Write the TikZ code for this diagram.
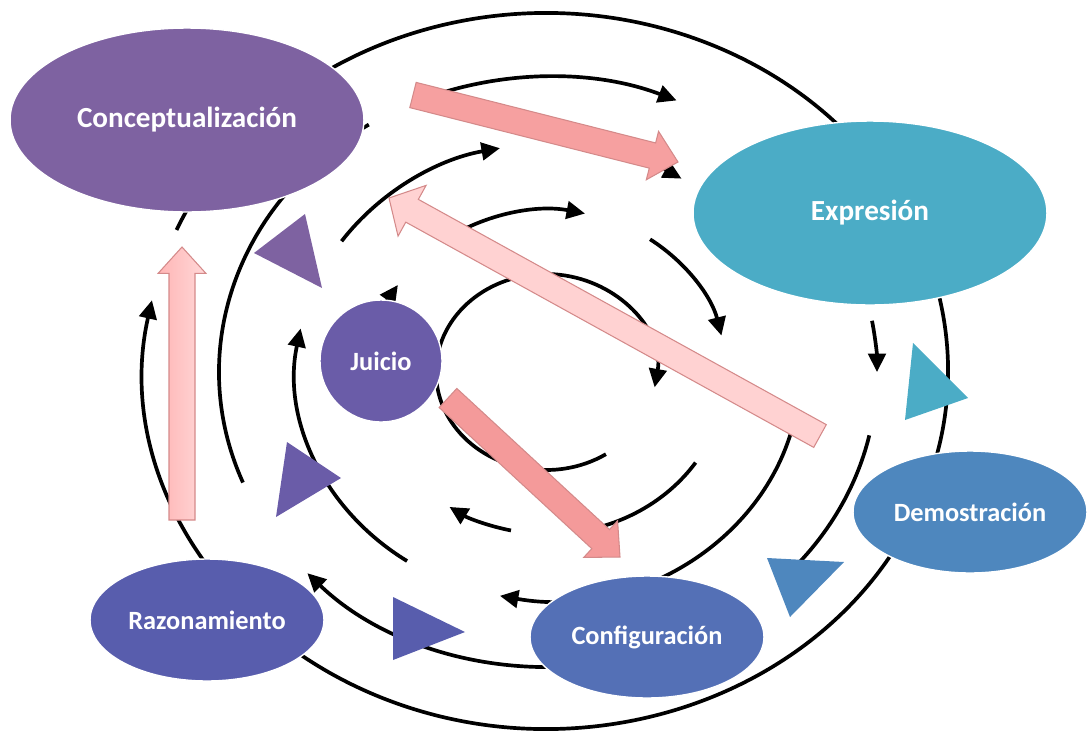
\documentclass[tikz,border=0pt]{standalone}
\usepackage{fontspec}
\setsansfont{Carlito}
\usetikzlibrary{arrows.meta,calc,shapes.geometric}

\definecolor{concept}{HTML}{7E62A1}
\definecolor{express}{HTML}{4BACC6}
\definecolor{demost}{HTML}{4E87BE}
\definecolor{config}{HTML}{5470B6}
\definecolor{reason}{HTML}{585DAD}
\definecolor{judge}{HTML}{6A5CA8}
\definecolor{pinkline}{HTML}{D48A8A}

\tikzset{phase/.style={ % Every stage of the cycle
            ellipse, inner sep=0pt,
            draw=white, line width=0.8pt,
            text=white},
        big/.style={phase, minimum width=7.08cm, minimum height=3.68cm,
            font=\sffamily\bfseries\fontsize{16.6}{20}\selectfont},
        small/.style={phase, minimum width=4.68cm, minimum height=2.44cm,
            font=\sffamily\bfseries\fontsize{15}{18}\selectfont},
        track/.style={draw, line width=2.1pt}, % Piece of a ring, no tip
        flow/.style={track, -{Triangle[length=10.5pt,width=10pt]}}, % Piece of a ring with tip
        fat/.style={draw=pinkline, line width=0.6pt} % Big pink arrows
        }

% #1 style, #2 tail, #3 tip, #4 half width of the head
\newcommand{\fatarrow}[4]{%
    \coordinate (#2-h) at ($(#3)!15pt!(#2)$);
    \draw[fat,#1] ($(#2)!7.4pt!90:(#3)$) -- ($(#2-h)!7.4pt!90:(#3)$) -- ($(#2-h)!#4!90:(#3)$)
        -- (#3) -- ($(#2-h)!#4!-90:(#3)$) -- ($(#2-h)!7.4pt!-90:(#3)$) -- ($(#2)!7.4pt!-90:(#3)$) -- cycle;
}

\begin{document}
\begin{tikzpicture}[x=0.02cm, y=-0.02cm]
    \useasboundingbox (0,0) rectangle (1092,731);
    \coordinate (out)  at (546,371); % centre of the outer ring
    \coordinate (mid)  at (548,372); % centre of the middle rings
    \coordinate (core) at (546,372); % centre of the inner ring

    % outer ring
    \draw[flow] ([shift={(out)}]203.2:402 and 358) arc[start angle=203.2, end angle=551.4, x radius=402, y radius=358];

    % second ring
    \draw[track] ([shift={(mid)}]158:329 and 295) arc[start angle=158, end angle=237, x radius=329, y radius=295];
    \draw[flow]  ([shift={(mid)}]246:329 and 295) arc[start angle=246, end angle=293, x radius=329, y radius=295];
    \draw[flow]  ([shift={(mid)}]350:329 and 295) arc[start angle=350, end angle=360, x radius=329, y radius=295];
    \draw[track] ([shift={(mid)}]12.4:329 and 295) arc[start angle=12.4, end angle=45, x radius=329, y radius=295];
    \draw[flow]  ([shift={(mid)}]80:329 and 295) arc[start angle=80, end angle=137, x radius=329, y radius=295];

    % third ring
    \draw[flow] ([shift={(mid)}]124:252 and 228) arc[start angle=124, end angle=191, x radius=252, y radius=228];
    \draw[flow] ([shift={(mid)}]215:252 and 228) arc[start angle=215, end angle=259, x radius=252, y radius=228];
    \draw[flow] ([shift={(mid)}]276:252 and 228) arc[start angle=276, end angle=302, x radius=252, y radius=228];
    \draw[flow] ([shift={(mid)}]11:252 and 228) arc[start angle=11, end angle=101, x radius=252, y radius=228];

    % fourth ring
    \draw[flow]  ([shift={(mid)}]164:178 and 162) arc[start angle=164, end angle=212.5, x radius=178, y radius=162];
    \draw[flow]  ([shift={(mid)}]236:178 and 162) arc[start angle=236, end angle=282, x radius=178, y radius=162];
    \draw[flow]  ([shift={(mid)}]305:178 and 162) arc[start angle=305, end angle=347, x radius=178, y radius=162];
    \draw[track] ([shift={(mid)}]34:178 and 162) arc[start angle=34, end angle=76, x radius=178, y radius=162];
    \draw[flow]  ([shift={(mid)}]102:178 and 162) arc[start angle=102, end angle=123.6, x radius=178, y radius=162];

    % inner ring
    \draw[flow]  ([shift={(core)}]190:110 and 98) arc[start angle=190, end angle=369, x radius=110, y radius=98];
    \draw[track] ([shift={(core)}]57:110 and 98) arc[start angle=57, end angle=175, x radius=110, y radius=98];

    % stages
    \node[big, fill=concept]  (concepto) at (187,120) {Conceptualización};
    \node[big, fill=express]  (expresion) at (870,213) {Expresión};
    \node[small, fill=demost] (demostracion) at (970,512) {Demostración};
    \node[small, fill=config] (configuracion) at (647,637) {Configuración};
    \node[small, fill=reason] (razonamiento) at (207,620) {Razonamiento};
    \node[small, circle, minimum size=2.44cm, fill=judge] (juicio) at (381,361) {Juicio};

    % triangles
    \fill[concept] (254,253) -- (305,214) -- (322,288) -- cycle;
    \fill[judge]   (287,442) -- (341,478) -- (276,517) -- cycle;
    \fill[reason]  (393,597) -- (465,632) -- (393,660) -- cycle;
    \fill[demost]  (767,558) -- (844,562) -- (790,617) -- cycle;
    \fill[express] (913,343) -- (968,398) -- (905,420) -- cycle;

    % pink arrows
    \coordinate (p1s) at (413,95);  \coordinate (p1e) at (678,162);
    \coordinate (p2s) at (820,436); \coordinate (p2e) at (389,198);
    \coordinate (p3s) at (448,398); \coordinate (p3e) at (620,557);
    \coordinate (p4s) at (182,520); \coordinate (p4e) at (182,247);
    \fatarrow{fill={rgb,255:red,246;green,160;blue,160}}{p1s}{p1e}{14.2pt}
    \fatarrow{fill={rgb,255:red,255;green,210;blue,210}}{p2s}{p2e}{16.5pt}
    \fatarrow{fill={rgb,255:red,244;green,154;blue,154}}{p3s}{p3e}{14.2pt}
    \fatarrow{left color={rgb,255:red,255;green,181;blue,181}, right color={rgb,255:red,255;green,216;blue,216}}{p4s}{p4e}{13.6pt}
\end{tikzpicture}
\end{document}
